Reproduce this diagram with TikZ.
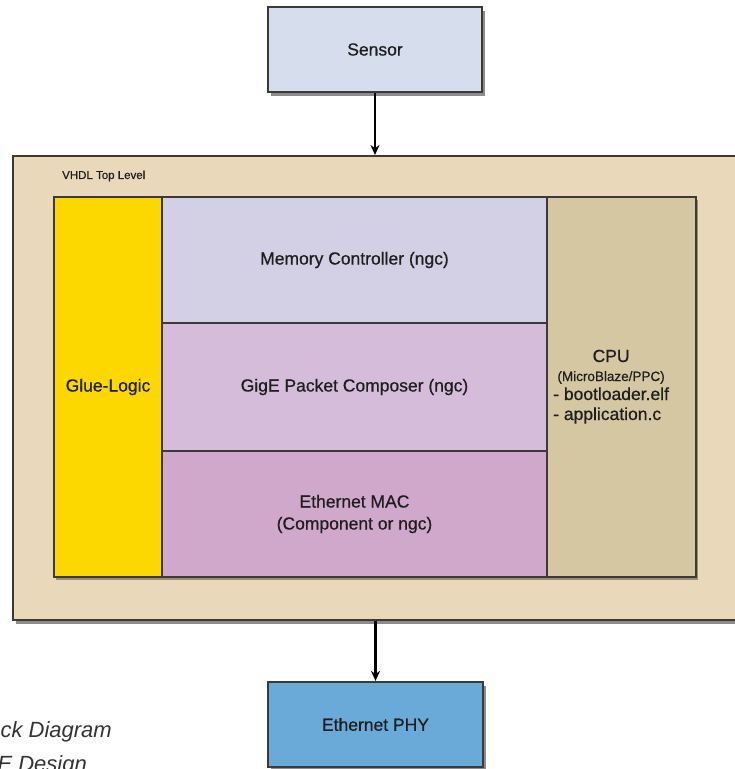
\documentclass[tikz,border=0pt]{standalone}
\usepackage{fontspec}
\setmainfont{Liberation Sans}
\newfontfamily\boxfont{Liberation Sans}[FakeBold=0.6]
\usetikzlibrary{shadows,arrows.meta,fit}
\definecolor{sensorfill}{HTML}{D6DEEE}
\definecolor{outerfill}{HTML}{E9D9BA}
\definecolor{gluefill}{HTML}{FDD800}
\definecolor{memfill}{HTML}{D3CFE5}
\definecolor{gigefill}{HTML}{D4BCDA}
\definecolor{macfill}{HTML}{D0A8CB}
\definecolor{cpufill}{HTML}{D6C7A3}
\definecolor{phyfill}{HTML}{6AAAD8}
\definecolor{edge}{HTML}{3D3935}
\definecolor{txt}{HTML}{1E1E1E}
\tikzset{
  blockbox/.style={draw=edge, line width=1.6pt, rectangle, inner sep=0pt, text=txt,
    font=\boxfont\fontsize{17.5}{21}\selectfont},
  shadowbox/.style={blockbox, line width=2.2pt,
    drop shadow={shadow xshift=2.5pt, shadow yshift=-3.5pt, fill=black, opacity=0.45}},
  flow/.style={draw=black, line width=2.2pt, -{Stealth[length=10pt,width=9pt]}},
  caption/.style={font=\fontsize{22}{26}\selectfont\itshape, text=black!80, inner sep=0pt}
}
\begin{document}
\begin{tikzpicture}[x=1pt,y=-1pt]
\useasboundingbox (0,0) rectangle (735,769);
\clip (0,0) rectangle (735,769);
\fill[white] (0,0) rectangle (735,769);
% outer box
\node[shadowbox, fill=outerfill, minimum width=760pt, minimum height=464pt, anchor=north west] (outer) at (12,155) {};
\node[anchor=west, inner sep=0pt, text=txt, font=\boxfont\fontsize{11.5}{13}\selectfont] (toplabel) at (62,176) {VHDL Top Level};
% shadow of the inner group
\node[rectangle, inner sep=0pt, minimum width=642pt, minimum height=380pt, fill=outerfill,
  drop shadow={shadow xshift=2pt, shadow yshift=-2.5pt, fill=black, opacity=0.35}] (innerarea) at (375,387) {};
% sensor
\node[shadowbox, fill=sensorfill, minimum width=214pt, minimum height=85pt] (sensor) at (375,49.5) {Sensor};
% inner blocks
\node[blockbox, fill=gluefill, minimum width=108pt, minimum height=380pt] (glue) at (108,387) {Glue-Logic};
\node[blockbox, fill=memfill, minimum width=385pt, minimum height=126pt] (mem) at (354.5,260) {Memory Controller (ngc)};
\node[blockbox, fill=gigefill, minimum width=385pt, minimum height=128pt] (gige) at (354.5,387) {GigE Packet Composer (ngc)};
\node[blockbox, fill=macfill, minimum width=385pt, minimum height=126pt, align=center] (mac) at (354.5,514) {Ethernet MAC\\[1pt](Component or ngc)};
\node[blockbox, fill=cpufill, minimum width=149pt, minimum height=380pt] (cpu) at (621.5,387) {};
\node[inner sep=0pt, text=txt, font=\boxfont\fontsize{17.5}{20}\selectfont, anchor=west] (cputext) at (553,387) {%
  \begin{tabular}{@{}l@{}}
  \multicolumn{1}{@{}c@{}}{\fontsize{17.5}{20}\selectfont CPU}\\[-1pt]
  \multicolumn{1}{@{}c@{}}{\fontsize{13.5}{16}\selectfont (MicroBlaze/PPC)}\\[-1pt]
  - bootloader.elf\\
  - application.c
  \end{tabular}};
% PHY
\node[shadowbox, fill=phyfill, minimum width=215pt, minimum height=85pt] (phy) at (375.5,724.5) {Ethernet PHY};
% connectors
\draw[flow] (sensor.south) -- (sensor.south |- outer.north);
\draw[flow] (outer.south -| phy.north) -- (phy.north);
% captions
\node[caption, anchor=base east] (cap1) at (112,737) {ck Diagram};
\node[caption, anchor=base east] (cap2) at (87,771) {E Design};
\end{tikzpicture}
\end{document}
